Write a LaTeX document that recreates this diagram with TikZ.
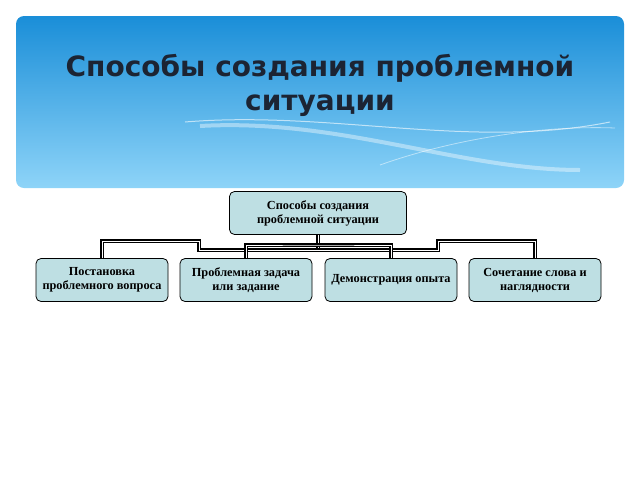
\documentclass[tikz,border=0pt]{standalone}
\usepackage{fontspec}
\setmainfont{Liberation Serif}
\newfontfamily\titlefont{DejaVu Sans}
\usetikzlibrary{positioning}
\definecolor{boxfill}{HTML}{BEDFE3}
\definecolor{skytop}{HTML}{1A8ED8}
\definecolor{skybot}{HTML}{8ED4F8}
\definecolor{titleink}{HTML}{1C2433}
\tikzset{
  box/.style={draw=black, fill=boxfill, rounded corners=5pt, line width=0.8pt,
    minimum width=132pt, minimum height=43pt, align=center, inner sep=2pt,
    font=\bfseries\fontsize{12.3}{14}\selectfont},
  link/.style={draw=black, line width=1.1pt, double=white, double distance=1pt}
}
\begin{document}
\begin{tikzpicture}[x=1pt,y=-1pt]
    \useasboundingbox (0,0) rectangle (640,480);
    \shade [top color=skytop, bottom color=skybot, rounded corners=8pt] (16,16) rectangle (624,188);
    % waves
    \draw [white, opacity=0.6, line width=1pt] (185,122) .. controls (330,110) and (470,150) .. (610,122);
    \draw [white, opacity=0.4, line width=4pt] (200,126) .. controls (340,118) and (460,170) .. (580,170);
    \draw [white, opacity=0.5, line width=0.8pt] (380,165) .. controls (450,140) and (540,125) .. (615,128);
    \node [text=titleink, align=center, font=\titlefont\bfseries\fontsize{28}{34}\selectfont] (title) at (320,85) {Способы создания проблемной\\ситуации};

    \node [box, minimum width=177pt] (root) at (318,213) {Способы создания\\проблемной ситуации};
    \node [box] (question) at (102,280) {Постановка\\проблемного вопроса};
    \node [box] (task) at (246,280) {Проблемная задача\\или задание};
    \node [box] (demo) at (391,280) {Демонстрация опыта};
    \node [box] (words) at (535,280) {Сочетание слова и\\наглядности};

    \coordinate (hub) at (318,250);
    \draw [link] (root.south) -- (hub);
    \draw [link] (question.north) |- (199,241) |- (hub);
    \draw [link] (words.north) |- (438,241) |- (hub);
    \draw [link] (task.north) |- (318,245) -| (demo.north);
\end{tikzpicture}
\end{document}
